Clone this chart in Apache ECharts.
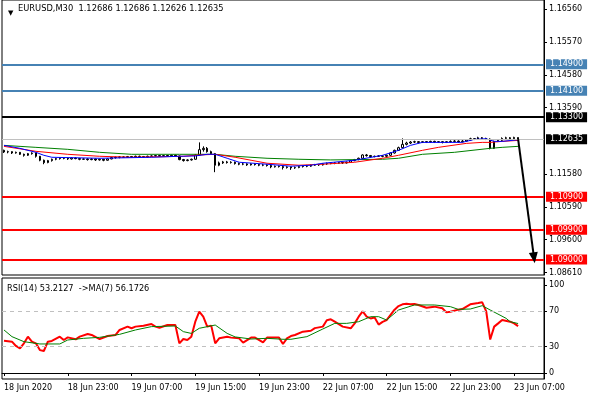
<!DOCTYPE html>
<html><head><meta charset="utf-8">
<script src="https://cdn.jsdelivr.net/npm/echarts@6/dist/echarts.min.js"></script>
<style>html,body{margin:0;padding:0;background:#fff}#c{width:590px;height:400px}</style>
</head><body><div id="c"></div>
<script>
const FONT = 'DejaVu Sans';
const opens = [1.1230,1.1225,1.1226,1.1222,1.1224,1.1218,1.1215,1.1220,1.1222,1.1212,
 1.1200,1.1193,1.1199,1.1203,1.1205,1.1207,1.1206,1.1204,1.1207,1.1205,
 1.1203,1.1204,1.1202,1.1204,1.1201,1.1203,1.1200,1.1204,1.1208,1.1209,
 1.1210,1.1209,1.1211,1.1210,1.1212,1.1211,1.1210,1.1212,1.1213,1.1214,
 1.1212,1.1214,1.1213,1.1215,1.1213,1.1202,1.1199,1.1201,1.1203,1.1216,
 1.1232,1.1236,1.1226,1.1220,1.1185,1.1192,1.1195,1.1193,1.1194,1.1190,
 1.1188,1.1189,1.1186,1.1189,1.1187,1.1185,1.1186,1.1184,1.1180,1.1182,
 1.1181,1.1178,1.1180,1.1177,1.1178,1.1181,1.1183,1.1182,1.1185,1.1187,
 1.1186,1.1189,1.1190,1.1192,1.1191,1.1193,1.1192,1.1194,1.1199,1.1202,
 1.1206,1.1216,1.1214,1.1211,1.1212,1.1213,1.1212,1.1215,1.1222,1.1230,
 1.1238,1.1248,1.1252,1.1255,1.1256,1.1254,1.1256,1.1255,1.1257,1.1255,
 1.1256,1.1254,1.1256,1.1257,1.1258,1.1256,1.1258,1.1261,1.1265,1.1264,
 1.1268,1.1266,1.1264,1.1236,1.1257,1.1260,1.1266,1.1268,1.1265,1.12686];
const closes = [1.1225,1.1226,1.1222,1.1224,1.1218,1.1215,1.1220,1.1222,1.1212,1.1200,
 1.1193,1.1199,1.1203,1.1205,1.1207,1.1206,1.1204,1.1207,1.1205,1.1203,
 1.1204,1.1202,1.1204,1.1201,1.1203,1.1200,1.1204,1.1208,1.1209,1.1210,
 1.1209,1.1211,1.1210,1.1212,1.1211,1.1210,1.1212,1.1213,1.1214,1.1212,
 1.1214,1.1213,1.1215,1.1213,1.1202,1.1199,1.1201,1.1203,1.1216,1.1232,
 1.1236,1.1226,1.1220,1.1185,1.1192,1.1195,1.1193,1.1194,1.1190,1.1188,
 1.1189,1.1186,1.1189,1.1187,1.1185,1.1186,1.1184,1.1180,1.1182,1.1181,
 1.1178,1.1180,1.1177,1.1178,1.1181,1.1183,1.1182,1.1185,1.1187,1.1186,
 1.1189,1.1190,1.1192,1.1191,1.1193,1.1192,1.1194,1.1199,1.1202,1.1206,
 1.1216,1.1214,1.1211,1.1212,1.1213,1.1212,1.1215,1.1222,1.1230,1.1238,
 1.1248,1.1252,1.1255,1.1256,1.1254,1.1256,1.1255,1.1257,1.1255,1.1256,
 1.1254,1.1256,1.1257,1.1258,1.1256,1.1258,1.1261,1.1265,1.1264,1.1268,
 1.1266,1.1264,1.1236,1.1257,1.1260,1.1266,1.1268,1.1265,1.1269,1.12635];
const lows = [1.1222,1.1221,1.1219,1.1220,1.1216,1.1211,1.1213,1.1217,1.1208,1.1197,
 1.1188,1.1191,1.1196,1.1200,1.1202,1.1203,1.1201,1.1202,1.1203,1.1200,
 1.1201,1.1199,1.1200,1.1198,1.1199,1.1197,1.1199,1.1203,1.1205,1.1206,
 1.1207,1.1207,1.1208,1.1208,1.1209,1.1207,1.1208,1.1210,1.1211,1.1210,
 1.1210,1.1211,1.1210,1.1211,1.1200,1.1196,1.1197,1.1199,1.1202,1.1214,
 1.1226,1.1223,1.1217,1.1164,1.1182,1.1189,1.1190,1.1190,1.1187,1.1185,
 1.1185,1.1183,1.1184,1.1184,1.1182,1.1182,1.1181,1.1176,1.1178,1.1178,
 1.1172,1.1175,1.1171,1.1174,1.1176,1.1178,1.1179,1.1180,1.1183,1.1183,
 1.1184,1.1186,1.1188,1.1188,1.1189,1.1189,1.1190,1.1192,1.1197,1.1200,
 1.1204,1.1211,1.1208,1.1209,1.1210,1.1209,1.1210,1.1213,1.1220,1.1228,
 1.1236,1.1245,1.1249,1.1252,1.1251,1.1252,1.1252,1.1253,1.1252,1.1253,
 1.1251,1.1252,1.1253,1.1254,1.1253,1.1254,1.1256,1.1259,1.1261,1.1262,
 1.1263,1.1261,1.1233,1.1234,1.1255,1.1258,1.1264,1.1262,1.1263,1.12626];
const highs = [1.1232,1.1229,1.1227,1.1226,1.1225,1.1220,1.1222,1.1224,1.1223,1.1213,
 1.1202,1.1201,1.1205,1.1207,1.1209,1.1209,1.1208,1.1209,1.1209,1.1207,
 1.1206,1.1206,1.1206,1.1205,1.1205,1.1204,1.1206,1.1210,1.1211,1.1212,
 1.1212,1.1213,1.1213,1.1214,1.1214,1.1213,1.1214,1.1215,1.1216,1.1216,
 1.1216,1.1216,1.1217,1.1217,1.1214,1.1204,1.1203,1.1205,1.1219,1.1254,
 1.1242,1.1240,1.1229,1.1222,1.1196,1.1198,1.1198,1.1197,1.1196,1.1193,
 1.1192,1.1191,1.1191,1.1191,1.1189,1.1189,1.1188,1.1186,1.1184,1.1184,
 1.1183,1.1182,1.1181,1.1181,1.1183,1.1185,1.1186,1.1187,1.1189,1.1189,
 1.1191,1.1193,1.1194,1.1194,1.1195,1.1195,1.1196,1.1201,1.1204,1.1208,
 1.1218,1.1219,1.1216,1.1214,1.1215,1.1215,1.1217,1.1224,1.1232,1.1241,
 1.1266,1.1256,1.1258,1.1259,1.1258,1.1258,1.1258,1.1259,1.1259,1.1258,
 1.1258,1.1258,1.1260,1.1261,1.1260,1.1261,1.1263,1.1268,1.1267,1.1271,
 1.1270,1.1268,1.1266,1.1259,1.1263,1.1269,1.1271,1.1270,1.1271,1.12686];

// moving averages: [bar index, price]
const maFast = [[0,1.1245],[4,1.1236],[8,1.1224],[10,1.1215],[12,1.1209],[24,1.1206],[37,1.1209],[44,1.1212],[48,1.1213],[51,1.1218],[53,1.1218],[56,1.1206],[59,1.1194],[66,1.1188],[72,1.1182],[77,1.1185],[80,1.1191],[88,1.1200],[95,1.1215],[99,1.1230],[102,1.1245],[105,1.1254],[115,1.1254],[118,1.1263],[121,1.1265],[123,1.1257],[125,1.1257],[129,1.1262]];
const maMid = [[0,1.1242],[8,1.1227],[16,1.1218],[24,1.1212],[32,1.1209],[45,1.1212],[49,1.1216],[53,1.1218],[58,1.1209],[62,1.1200],[66,1.1191],[74,1.1185],[80,1.1188],[88,1.1194],[95,1.1206],[99,1.1215],[105,1.1230],[109,1.1239],[116,1.1251],[120,1.1254],[122,1.1254],[125,1.1257],[129,1.1260]];
const maSlow = [[0,1.1245],[8,1.1239],[16,1.1233],[24,1.1224],[32,1.1218],[44,1.1218],[53,1.1218],[58,1.1212],[66,1.1206],[74,1.1203],[82,1.1201],[95,1.1203],[99,1.1206],[105,1.1218],[113,1.1224],[122,1.1236],[125,1.1239],[129,1.1242]];

const rsi = [[0,36.7],[2,35.6],[3,30.7],[4,28],[5,33.7],[6,41.3],[7,35.6],[8,33.7],[9,26],[10,25],[11,35.6],[12,36.4],[14,41.3],[15,37.5],[16,40.5],[18,38.3],[19,41.3],[21,44.3],[22,43.2],[24,38.6],[26,42],[28,43.2],[29,48.9],[31,52.7],[32,50.8],[33,52.7],[35,53.8],[37,55.7],[38,52.7],[39,51.5],[41,54.5],[43,54.5],[44,33.7],[45,38.6],[46,37.5],[47,41.3],[48,58.3],[49,69.7],[50,64],[51,52.7],[52,53.8],[53,33.7],[54,39.4],[56,41.3],[57,40.2],[59,39.4],[60,34.5],[62,40.2],[63,40.2],[65,34.8],[66,40.2],[69,40.2],[70,33],[71,39.4],[72,42],[73,43.2],[75,47],[77,48],[78,51],[80,52.7],[81,60],[82,61],[83,58.3],[85,52.7],[87,50.8],[88,56.4],[89,64],[90,70],[91,64],[92,62],[93,63],[94,55],[95,58],[96,60],[97,66],[98,72],[99,76],[100,78],[101,78.7],[102,78],[103,78.4],[104,77.3],[106,74.2],[108,75.4],[110,73.5],[111,68.9],[112,69.7],[114,72],[115,72.7],[117,78],[119,79.5],[120,80.3],[121,70],[122,38],[123,52.7],[124,56.4],[125,60.2],[127,58.3],[128,56.4],[129,53.2]];
const rsiMa = [[0,48.9],[2,41.3],[5,35.6],[9,33],[14,33],[16,37.5],[20,39.4],[24,40.5],[29,43.9],[33,48.9],[37,52.7],[43,53.4],[45,47],[47,45],[49,50.8],[53,54.5],[56,45],[58,41],[62,38.6],[66,39.4],[70,38.3],[72,38.3],[76,41.3],[80,50],[83,56.4],[86,56.4],[89,58.3],[92,64],[94,64],[96,60.2],[99,71.6],[103,77.3],[108,77.3],[112,75.4],[114,72.3],[117,72.7],[120,76.5],[122,71.6],[126,62.1],[127,58.3],[129,56.2]];

const priceTicks = [1.16560, 1.15570, 1.14580, 1.13590, 1.11580, 1.10590, 1.09600, 1.08610];
const rsiTicks = [0, 30, 70, 100];
const timeTicks = ["18 Jun 15:00","18 Jun 23:00","19 Jun 07:00","19 Jun 15:00","19 Jun 23:00","22 Jun 07:00","22 Jun 15:00","22 Jun 23:00","23 Jun 07:00"];
const firstTickText = "18 Jun 2020";
const blueLevels = [1.14900, 1.14100];
const blackLevels = [1.13300];
const redLevels = [1.10900, 1.09900, 1.09000];
const lastPrice = 1.12635;
const arrowFrom = [129, 1.12635];
const arrowTo = [133, 1.0905];
const rsiLevels = [30, 70];

// 30-minute bar times (weekends skipped)
const MON = ['Jan','Feb','Mar','Apr','May','Jun','Jul','Aug','Sep','Oct','Nov','Dec'];
const cats = [];
let t = Date.UTC(2020, 5, 18, 15, 0);
const p2 = n => String(n).padStart(2, '0');
while (cats.length < 136) {
  const d = new Date(t);
  const wd = d.getUTCDay();
  if (wd !== 0 && wd !== 6) cats.push(p2(d.getUTCDate()) + ' ' + MON[d.getUTCMonth()] + ' ' + p2(d.getUTCHours()) + ':' + p2(d.getUTCMinutes()));
  t += 30 * 60000;
}
const tickSet = new Set(timeTicks);
const candles = closes.map((c, i) => [opens[i], c, lows[i], highs[i]]);

function levelLine(v, color, width, bg) {
  return {
    yAxis: v,
    lineStyle: {color: color, width: width, type: 'solid'},
    label: {show: true, position: 'end', distance: 2, formatter: () => v.toFixed(5),
      color: '#fff', backgroundColor: bg, padding: [1, 4, 1, 4], fontFamily: FONT, fontSize: 8, lineHeight: 8}
  };
}
const markData = [];
markData.push(levelLine(lastPrice, '#c0c0c0', 1, '#000'));
blueLevels.forEach(v => markData.push(levelLine(v, '#4682b4', 2, '#4682b4')));
blackLevels.forEach(v => markData.push(levelLine(v, '#000', 2, '#000')));
redLevels.forEach(v => markData.push(levelLine(v, '#ff0000', 2, '#ff0000')));
markData.push([
  {coord: arrowFrom, symbol: 'none', lineStyle: {color: '#000', width: 2, type: 'solid'}, label: {show: false}},
  {coord: arrowTo, symbol: 'triangle', symbolSize: [9, 11]}
]);

const chart = echarts.init(document.getElementById('c'), null, {renderer: 'canvas'});
chart.setOption({
  animation: false,
  backgroundColor: '#fff',
  title: [
    {text: '▼', left: 3, top: 5, textStyle: {fontFamily: FONT, fontSize: 7, color: '#000', fontWeight: 'normal'}},
    {text: 'EURUSD,M30  1.12686 1.12686 1.12626 1.12635', left: 16, top: 4, padding: [1, 2],
      backgroundColor: '#fff', textStyle: {fontFamily: FONT, fontSize: 8.3, color: '#000', fontWeight: 'normal'}},
    {text: 'RSI(14) 53.2127  ->MA(7) 56.1726', left: 5, top: 284, padding: [1, 2],
      textStyle: {fontFamily: FONT, fontSize: 8.2, color: '#000', fontWeight: 'normal'}}
  ],
  grid: [
    {left: 2, right: 46, top: -1, height: 276, show: true, borderColor: '#000', borderWidth: 1, backgroundColor: 'transparent'},
    {left: 2, right: 46, top: 278, height: 101, show: true, borderColor: '#000', borderWidth: 1, backgroundColor: 'transparent'}
  ],
  xAxis: [
    {type: 'category', gridIndex: 0, data: cats, boundaryGap: true,
      axisLine: {show: false}, axisTick: {show: false}, axisLabel: {show: false}, splitLine: {show: false}},
    {type: 'category', gridIndex: 1, data: cats, boundaryGap: true,
      axisLine: {show: true, lineStyle: {color: '#000', width: 1}},
      axisTick: {show: true, length: 3, alignWithLabel: true, interval: (i, v) => tickSet.has(v), lineStyle: {color: '#000'}},
      axisLabel: {show: true, interval: (i, v) => tickSet.has(v), align: 'left', margin: 5,
        formatter: (v, i) => (i === 0 ? firstTickText : v), fontFamily: FONT, fontSize: 8, color: '#000'},
      splitLine: {show: false}}
  ],
  yAxis: [
    {type: 'value', gridIndex: 0, position: 'right', min: 1.08534, max: 1.16841,
      axisLine: {show: true, lineStyle: {color: '#000'}},
      axisTick: {show: true, length: 3, customValues: priceTicks, lineStyle: {color: '#000'}},
      axisLabel: {show: true, customValues: priceTicks, margin: 5, formatter: v => v.toFixed(5), fontFamily: FONT, fontSize: 8, color: '#000'},
      splitLine: {show: false}},
    {type: 'value', gridIndex: 1, position: 'right', min: -6.82, max: 107.95,
      axisLine: {show: true, lineStyle: {color: '#000'}},
      axisTick: {show: true, length: 3, customValues: rsiTicks, lineStyle: {color: '#000'}},
      axisLabel: {show: true, customValues: rsiTicks, margin: 5, formatter: v => String(v), fontFamily: FONT, fontSize: 8, color: '#000'},
      splitLine: {show: false}}
  ],
  series: [
    {type: 'candlestick', xAxisIndex: 0, yAxisIndex: 0, data: candles, barWidth: 2,
      itemStyle: {color: '#fff', color0: '#000', borderColor: '#000', borderColor0: '#000', borderWidth: 1},
      markLine: {silent: true, precision: 5, symbol: ['none', 'none'], animation: false, data: markData}, z: 2},
    {type: 'line', xAxisIndex: 0, yAxisIndex: 0, data: maSlow, showSymbol: false, lineStyle: {color: '#008000', width: 1}, z: 3},
    {type: 'line', xAxisIndex: 0, yAxisIndex: 0, data: maMid, showSymbol: false, lineStyle: {color: '#ff0000', width: 1}, z: 3},
    {type: 'line', xAxisIndex: 0, yAxisIndex: 0, data: maFast, showSymbol: false, lineStyle: {color: '#0000ff', width: 1}, z: 3},
    {type: 'line', xAxisIndex: 1, yAxisIndex: 1, data: rsi, showSymbol: false, lineStyle: {color: '#ff0000', width: 2}, z: 3,
      markLine: {silent: true, precision: 2, symbol: ['none', 'none'], label: {show: false},
        lineStyle: {color: '#c0c0c0', width: 1, type: [4, 4]}, data: rsiLevels.map(v => ({yAxis: v}))}},
    {type: 'line', xAxisIndex: 1, yAxisIndex: 1, data: rsiMa, showSymbol: false, lineStyle: {color: '#008000', width: 1}, z: 4}
  ]
});
</script></body></html>
